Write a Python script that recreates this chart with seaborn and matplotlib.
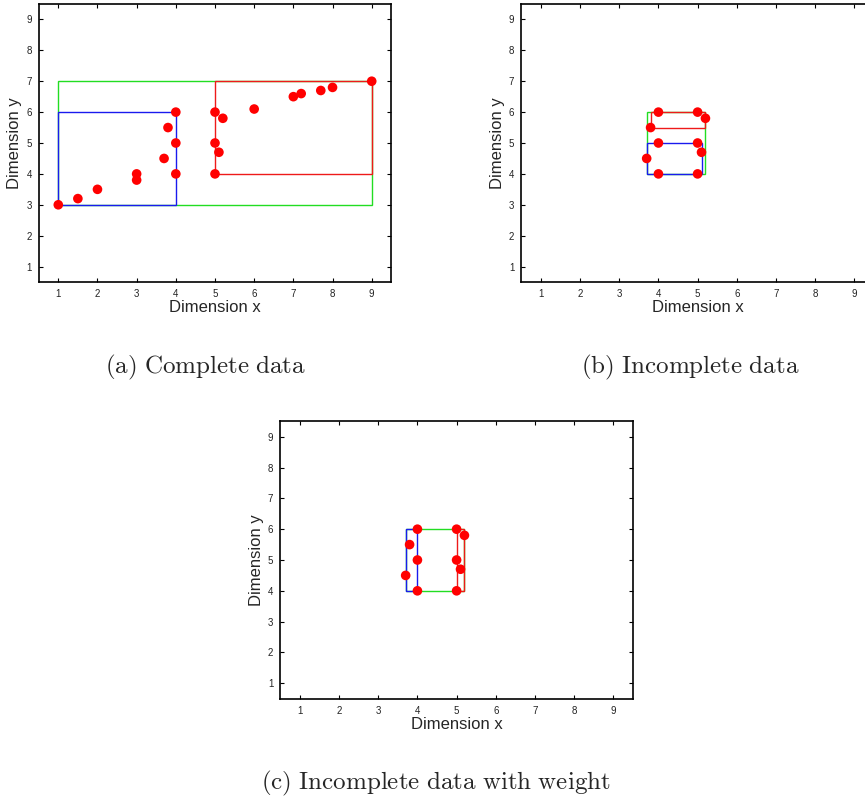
import matplotlib
matplotlib.use("Agg")
import matplotlib.pyplot as plt
from matplotlib.patches import Rectangle
import seaborn as sns
import pandas as pd

# Points of the complete data set
full_x = [1, 1.5, 2, 3, 3, 3.7, 3.8, 4, 4, 4, 5, 5, 5, 5.1, 5.2, 6, 7, 7.2, 7.7, 8, 9]
full_y = [3, 3.2, 3.5, 4, 3.8, 4.5, 5.5, 6, 5, 4, 6, 5, 4, 4.7, 5.8, 6.1, 6.5, 6.6, 6.7, 6.8, 7]

# Points of the incomplete data set
part_x = [3.7, 3.8, 4, 4, 4, 5, 5, 5, 5.1, 5.2]
part_y = [4.5, 5.5, 6, 5, 4, 6, 5, 4, 4.7, 5.8]

# Bounding boxes: (x0, y0, x1, y1) for green, blue, red
boxes_a = [(1, 3, 9, 7), (1, 3, 4, 6), (5, 4, 9, 7)]
boxes_b = [(3.7, 4, 5.2, 6), (3.7, 4, 5.1, 5), (3.8, 5.5, 5.2, 6)]
boxes_c = [(3.7, 4, 5.2, 6), (3.7, 4, 4, 6), (5, 4, 5.2, 6)]
box_colors = ["#22dd22", "#1a1aee", "#ee1a1a"]

ticks = [1, 2, 3, 4, 5, 6, 7, 8, 9]
captions = ["(a) Complete data", "(b) Incomplete data", "(c) Incomplete data with weight"]

sns.set_style("white")
plt.rcParams["font.family"] = ["Liberation Sans", "DejaVu Sans"]
plt.rcParams["mathtext.fontset"] = "cm"

fig = plt.figure(figsize=(8.65, 8.01), dpi=100)

W, H = 865.0, 801.0
panels = [
    # left, top, width, height in pixels
    (38.7, 4.0, 352.6, 278.0),
    (521.3, 4.0, 352.6, 278.0),
    (280.3, 421.3, 352.6, 277.4),
]
datasets = [(full_x, full_y), (part_x, part_y), (part_x, part_y)]
all_boxes = [boxes_a, boxes_b, boxes_c]
caption_pos = [(206, 367), (690, 367), (436, 783)]

for (l, t, w, h), (xs, ys), boxes, cap, (cx, cy) in zip(panels, datasets, all_boxes, captions, caption_pos):
    ax = fig.add_axes([l / W, 1 - (t + h) / H, w / W, h / H])
    for (x0, y0, x1, y1), c in zip(boxes, box_colors):
        ax.add_patch(Rectangle((x0, y0), x1 - x0, y1 - y0, fill=False,
                               edgecolor=c, linewidth=1.0, zorder=2))
    df = pd.DataFrame({"x": xs, "y": ys})
    sns.scatterplot(data=df, x="x", y="y", ax=ax, color="#ff0000", s=48,
                    edgecolor="none", zorder=3)
    ax.set_xlim(0.5, 9.5)
    ax.set_ylim(0.5, 9.5)
    ax.set_xticks(ticks)
    ax.set_yticks(ticks)
    ax.set_xticklabels([str(v) for v in ticks])
    ax.set_yticklabels([str(v) for v in ticks])
    ax.tick_params(direction="in", length=3, width=0.8, labelsize=7,
                   top=True, right=True, bottom=True, left=True, pad=5,
                   colors="black", labelcolor="#222222")
    for sp in ax.spines.values():
        sp.set_visible(True)
        sp.set_color("black")
        sp.set_linewidth(1.2)
    ax.set_xlabel("Dimension x", fontsize=12, labelpad=1)
    ax.set_ylabel("Dimension y", fontsize=12, labelpad=3)
    fig.text(cx / W, 1 - cy / H, "$\\mathrm{" + cap.replace(" ", "\\ ") + "}$",
             ha="center", va="center", fontsize=18)

fig.savefig("out.png", dpi=100)
